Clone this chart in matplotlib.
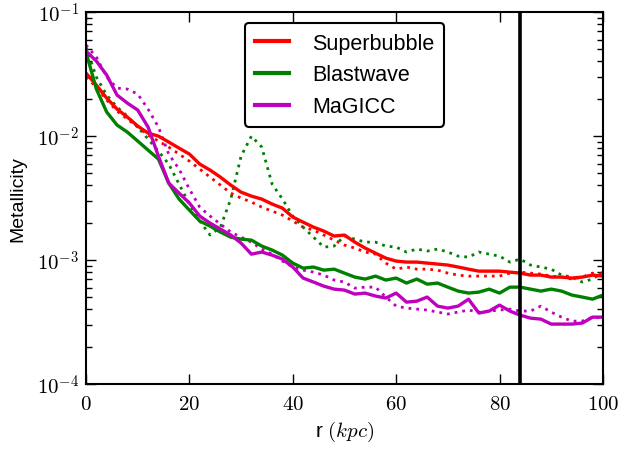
import numpy as np
import matplotlib
matplotlib.use("Agg")
import matplotlib.pyplot as plt
from matplotlib.ticker import FuncFormatter, LogLocator, MultipleLocator

plt.rcParams['font.family'] = ['Liberation Sans', 'DejaVu Sans']
plt.rcParams['mathtext.fontset'] = 'cm'

# radius grid (kpc)
r = np.arange(0, 101, 2)

# log10(metallicity) values
sb_solid = [-1.492, -1.589, -1.694, -1.782, -1.847, -1.919, -1.976, -2.000, -2.048, -2.097,
            -2.145, -2.226, -2.274, -2.331, -2.395, -2.452, -2.484, -2.508, -2.548, -2.581,
            -2.653, -2.694, -2.734, -2.766, -2.806, -2.798, -2.855, -2.903, -2.944, -2.984,
            -3.008, -3.016, -3.016, -3.024, -3.032, -3.040, -3.056, -3.073, -3.089, -3.089,
            -3.089, -3.097, -3.105, -3.121, -3.121, -3.137, -3.137, -3.145, -3.137, -3.121,
            -3.129]
bw_solid = [-1.323, -1.621, -1.806, -1.911, -1.968, -2.040, -2.113, -2.185, -2.379, -2.508,
            -2.597, -2.685, -2.726, -2.774, -2.815, -2.831, -2.839, -2.887, -2.919, -2.960,
            -3.024, -3.065, -3.056, -3.081, -3.073, -3.105, -3.137, -3.153, -3.129, -3.161,
            -3.145, -3.185, -3.153, -3.194, -3.185, -3.218, -3.250, -3.266, -3.258, -3.234,
            -3.266, -3.218, -3.218, -3.234, -3.250, -3.234, -3.250, -3.282, -3.298, -3.315,
            -3.282]
mg_solid = [-1.315, -1.395, -1.508, -1.669, -1.734, -1.790, -1.927, -2.161, -2.379, -2.460,
            -2.540, -2.645, -2.702, -2.750, -2.798, -2.863, -2.952, -2.935, -2.960, -2.992,
            -3.056, -3.145, -3.177, -3.210, -3.234, -3.242, -3.274, -3.266, -3.290, -3.306,
            -3.266, -3.339, -3.331, -3.298, -3.371, -3.387, -3.371, -3.315, -3.427, -3.411,
            -3.363, -3.411, -3.444, -3.468, -3.476, -3.516, -3.516, -3.516, -3.508, -3.460,
            -3.460]
sb_dot = [-1.524, -1.605, -1.710, -1.798, -1.863, -1.927, -1.992, -2.040, -2.089, -2.145,
          -2.202, -2.266, -2.331, -2.395, -2.460, -2.500, -2.532, -2.573, -2.605, -2.637,
          -2.685, -2.734, -2.758, -2.798, -2.839, -2.879, -2.903, -2.935, -2.952, -3.024,
          -3.073, -3.056, -3.073, -3.073, -3.081, -3.105, -3.121, -3.129, -3.129, -3.129,
          -3.129, -3.105, -3.097, -3.105, -3.113, -3.129, -3.137, -3.153, -3.137, -3.105,
          -3.113]
bw_dot = [-1.282, -1.524, -1.669, -1.766, -1.839, -1.927, -2.024, -2.121, -2.226, -2.387,
          -2.548, -2.685, -2.798, -2.734, -2.508, -2.161, -2.000, -2.089, -2.387, -2.508,
          -2.645, -2.734, -2.815, -2.895, -2.887, -2.806, -2.831, -2.855, -2.855, -2.887,
          -2.895, -2.935, -2.911, -2.927, -2.911, -2.935, -2.968, -2.976, -2.935, -2.952,
          -2.968, -3.016, -2.992, -3.040, -3.056, -3.073, -3.121, -3.137, -3.177, -3.153,
          -3.097]
mg_dot = [-1.266, -1.363, -1.524, -1.613, -1.621, -1.661, -1.782, -1.927, -2.145, -2.266,
          -2.427, -2.573, -2.645, -2.710, -2.774, -2.815, -2.855, -2.911, -2.952, -3.008,
          -3.056, -3.081, -3.097, -3.121, -3.161, -3.177, -3.226, -3.218, -3.218, -3.298,
          -3.371, -3.387, -3.395, -3.403, -3.419, -3.435, -3.419, -3.403, -3.419, -3.411,
          -3.403, -3.395, -3.411, -3.411, -3.371, -3.419, -3.460, -3.492, -3.492, -3.460,
          -3.468]

labels = ['Superbubble', 'Blastwave', 'MaGICC']
colors = ['#ff0000', '#008000', '#bf00bf']
r_vir = 84

fig = plt.figure(figsize=(6.19, 4.52), dpi=100)
ax = fig.add_axes([0.139, 0.148, 0.835, 0.823])

dot_ls = (0, (1.0, 1.8))
for vals, c in zip([sb_dot, bw_dot, mg_dot], colors):
    ax.plot(r, 10 ** np.array(vals), color=c, lw=2.0, ls=dot_ls)
handles = []
for vals, c, lab in zip([sb_solid, bw_solid, mg_solid], colors, labels):
    h, = ax.plot(r, 10 ** np.array(vals), color=c, lw=2.4, label=lab)
    handles.append(h)

ax.axvline(r_vir, color='black', lw=2.6)

ax.set_yscale('log')
ax.set_xlim(0, 100)
ax.set_ylim(1e-4, 1e-1)
ax.xaxis.set_major_locator(MultipleLocator(20))
ax.xaxis.set_major_formatter(FuncFormatter(lambda v, p: r'$%d$' % v))
ax.yaxis.set_major_locator(LogLocator(base=10, numticks=10))
ax.yaxis.set_minor_locator(LogLocator(base=10, subs=np.arange(2, 10), numticks=20))
ax.yaxis.set_major_formatter(FuncFormatter(lambda v, p: r'$10^{%d}$' % round(np.log10(v))))

ax.tick_params(which='both', direction='in', top=True, right=True, labelsize=15, width=1.0)
ax.tick_params(which='major', length=7, pad=7)
ax.tick_params(which='minor', length=4)
ax.tick_params(axis='y', which='major', pad=5)
for s in ax.spines.values():
    s.set_linewidth(1.5)

ax.set_xlabel(r'r $(kpc)$', fontsize=15, labelpad=4)
ax.set_ylabel('Metallicity', fontsize=14, labelpad=8)

leg = ax.legend(handles=handles, loc='upper center', fontsize=15.5, frameon=True,
                fancybox=True, framealpha=1, edgecolor='black', handlelength=1.6,
                handletextpad=1.05, labelspacing=0.5, borderpad=0.45, borderaxespad=0.5)
leg.get_frame().set_linewidth(1.5)
for line in leg.get_lines():
    line.set_linewidth(3)

fig.savefig('out.png', dpi=100)
